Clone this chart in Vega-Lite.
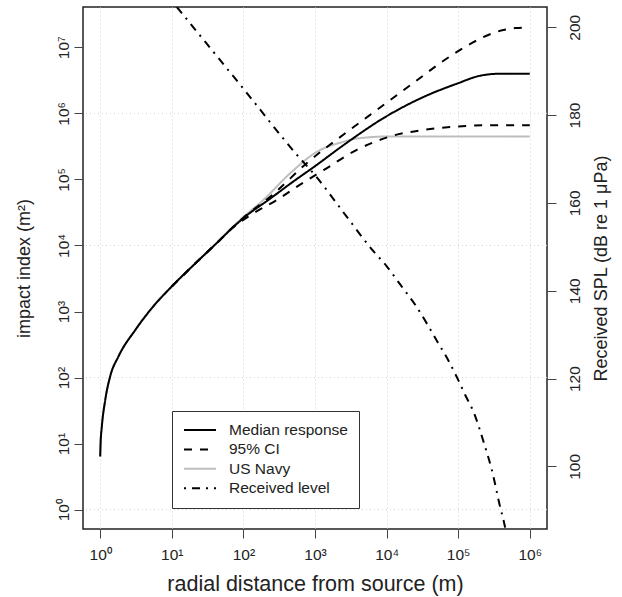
{
  "$schema": "https://vega.github.io/schema/vega-lite/v6.json",
  "autosize": "none",
  "width": 464,
  "height": 522,
  "padding": {"left": 83, "top": 7, "right": 75, "bottom": 68},
  "background": "white",
  "datasets": {
    "curves": [
      {"r": 1, "v": 6.4, "series": "US Navy", "line": "navy"},
      {"r": 1.012, "v": 10, "series": "US Navy", "line": "navy"},
      {"r": 1.054, "v": 18.2, "series": "US Navy", "line": "navy"},
      {"r": 1.175, "v": 45.7, "series": "US Navy", "line": "navy"},
      {"r": 1.38, "v": 105, "series": "US Navy", "line": "navy"},
      {"r": 1.8, "v": 209, "series": "US Navy", "line": "navy"},
      {"r": 3.09, "v": 525, "series": "US Navy", "line": "navy"},
      {"r": 5.25, "v": 1122, "series": "US Navy", "line": "navy"},
      {"r": 10, "v": 2399, "series": "US Navy", "line": "navy"},
      {"r": 21.4, "v": 5370, "series": "US Navy", "line": "navy"},
      {"r": 44.7, "v": 11480, "series": "US Navy", "line": "navy"},
      {"r": 63.1, "v": 17000, "series": "US Navy", "line": "navy"},
      {"r": 100, "v": 26900, "series": "US Navy", "line": "navy"},
      {"r": 190.5, "v": 48980, "series": "US Navy", "line": "navy"},
      {"r": 457, "v": 125900, "series": "US Navy", "line": "navy"},
      {"r": 1072, "v": 263000, "series": "US Navy", "line": "navy"},
      {"r": 2512, "v": 371500, "series": "US Navy", "line": "navy"},
      {"r": 3890, "v": 416900, "series": "US Navy", "line": "navy"},
      {"r": 11220, "v": 446700, "series": "US Navy", "line": "navy"},
      {"r": 1000000, "v": 446700, "series": "US Navy", "line": "navy"},

      {"r": 1, "v": 6.4, "series": "Median response", "line": "med"},
      {"r": 1.012, "v": 10, "series": "Median response", "line": "med"},
      {"r": 1.054, "v": 18.2, "series": "Median response", "line": "med"},
      {"r": 1.175, "v": 45.7, "series": "Median response", "line": "med"},
      {"r": 1.38, "v": 105, "series": "Median response", "line": "med"},
      {"r": 1.8, "v": 209, "series": "Median response", "line": "med"},
      {"r": 3.09, "v": 525, "series": "Median response", "line": "med"},
      {"r": 5.25, "v": 1122, "series": "Median response", "line": "med"},
      {"r": 10, "v": 2399, "series": "Median response", "line": "med"},
      {"r": 21.4, "v": 5370, "series": "Median response", "line": "med"},
      {"r": 44.7, "v": 11480, "series": "Median response", "line": "med"},
      {"r": 69.2, "v": 18200, "series": "Median response", "line": "med"},
      {"r": 107, "v": 27540, "series": "Median response", "line": "med"},
      {"r": 224, "v": 48980, "series": "Median response", "line": "med"},
      {"r": 501, "v": 93300, "series": "Median response", "line": "med"},
      {"r": 1000, "v": 158500, "series": "Median response", "line": "med"},
      {"r": 2512, "v": 331100, "series": "Median response", "line": "med"},
      {"r": 9120, "v": 851000, "series": "Median response", "line": "med"},
      {"r": 33110, "v": 1778000, "series": "Median response", "line": "med"},
      {"r": 96600, "v": 2818000, "series": "Median response", "line": "med"},
      {"r": 204200, "v": 3715000, "series": "Median response", "line": "med"},
      {"r": 389000, "v": 3981000, "series": "Median response", "line": "med"},
      {"r": 1000000, "v": 3981000, "series": "Median response", "line": "med"},

      {"r": 10, "v": 2399, "series": "95% CI", "line": "ciU"},
      {"r": 21.4, "v": 5370, "series": "95% CI", "line": "ciU"},
      {"r": 44.7, "v": 11480, "series": "95% CI", "line": "ciU"},
      {"r": 69.2, "v": 18200, "series": "95% CI", "line": "ciU"},
      {"r": 100, "v": 26300, "series": "95% CI", "line": "ciU"},
      {"r": 251, "v": 57500, "series": "95% CI", "line": "ciU"},
      {"r": 794, "v": 182000, "series": "95% CI", "line": "ciU"},
      {"r": 2512, "v": 478600, "series": "95% CI", "line": "ciU"},
      {"r": 7943, "v": 1202000, "series": "95% CI", "line": "ciU"},
      {"r": 25120, "v": 3020000, "series": "95% CI", "line": "ciU"},
      {"r": 63100, "v": 6310000, "series": "95% CI", "line": "ciU"},
      {"r": 158500, "v": 11750000, "series": "95% CI", "line": "ciU"},
      {"r": 316200, "v": 16600000, "series": "95% CI", "line": "ciU"},
      {"r": 631000, "v": 19500000, "series": "95% CI", "line": "ciU"},
      {"r": 1000000, "v": 19950000, "series": "95% CI", "line": "ciU"},

      {"r": 10, "v": 2399, "series": "95% CI", "line": "ciL"},
      {"r": 21.4, "v": 5370, "series": "95% CI", "line": "ciL"},
      {"r": 44.7, "v": 11480, "series": "95% CI", "line": "ciL"},
      {"r": 69.2, "v": 18200, "series": "95% CI", "line": "ciL"},
      {"r": 126, "v": 28840, "series": "95% CI", "line": "ciL"},
      {"r": 295, "v": 49000, "series": "95% CI", "line": "ciL"},
      {"r": 661, "v": 87100, "series": "95% CI", "line": "ciL"},
      {"r": 1318, "v": 138000, "series": "95% CI", "line": "ciL"},
      {"r": 3890, "v": 281800, "series": "95% CI", "line": "ciL"},
      {"r": 11220, "v": 446700, "series": "95% CI", "line": "ciL"},
      {"r": 33110, "v": 562300, "series": "95% CI", "line": "ciL"},
      {"r": 96600, "v": 631000, "series": "95% CI", "line": "ciL"},
      {"r": 281800, "v": 660700, "series": "95% CI", "line": "ciL"},
      {"r": 1000000, "v": 660700, "series": "95% CI", "line": "ciL"}
    ],
    "received": [
      {"r": 10, "v": 206, "series": "Received level", "line": "rl"},
      {"r": 13.8, "v": 203.2, "series": "Received level", "line": "rl"},
      {"r": 100, "v": 186, "series": "Received level", "line": "rl"},
      {"r": 562, "v": 170.9, "series": "Received level", "line": "rl"},
      {"r": 1000, "v": 166.3, "series": "Received level", "line": "rl"},
      {"r": 2512, "v": 157.8, "series": "Received level", "line": "rl"},
      {"r": 6310, "v": 149.3, "series": "Received level", "line": "rl"},
      {"r": 10000, "v": 145.6, "series": "Received level", "line": "rl"},
      {"r": 15850, "v": 141.2, "series": "Received level", "line": "rl"},
      {"r": 25120, "v": 136.8, "series": "Received level", "line": "rl"},
      {"r": 51290, "v": 128.4, "series": "Received level", "line": "rl"},
      {"r": 70790, "v": 124.5, "series": "Received level", "line": "rl"},
      {"r": 100000, "v": 119.7, "series": "Received level", "line": "rl"},
      {"r": 125900, "v": 116.2, "series": "Received level", "line": "rl"},
      {"r": 166000, "v": 112.2, "series": "Received level", "line": "rl"},
      {"r": 229100, "v": 105.3, "series": "Received level", "line": "rl"},
      {"r": 295100, "v": 99.2, "series": "Received level", "line": "rl"},
      {"r": 389000, "v": 90.5, "series": "Received level", "line": "rl"},
      {"r": 436500, "v": 87.3, "series": "Received level", "line": "rl"},
      {"r": 478600, "v": 84.0, "series": "Received level", "line": "rl"}
    ],
    "grid": [
      {"v": 1}, {"v": 100}, {"v": 10000}, {"v": 1000000}
    ]
  },
  "layer": [
    {
      "layer": [
        {
          "data": {"name": "grid"},
          "mark": {"type": "rule", "color": "#D3D3D3", "strokeWidth": 1, "strokeDash": [1, 3]},
          "encoding": {
            "y": {"field": "v", "type": "quantitative", "scale": {"type": "log", "domain": [0.51, 40700000], "nice": false}}
          }
        },
        {
          "data": {"name": "curves"},
          "transform": [{"filter": "datum.series == 'US Navy'"}],
          "mark": {"type": "line", "strokeWidth": 2, "interpolate": "monotone", "clip": true, "strokeCap": "butt"},
          "encoding": {
            "x": {"field": "r", "type": "quantitative", "scale": {"type": "log", "domain": [0.575, 1740000], "nice": false},
              "axis": {"values": [1, 10, 100, 1000, 10000, 100000, 1000000],
                "labelExpr": "'10' + ['⁰','¹','²','³','⁴','⁵','⁶','⁷'][round(log(datum.value)/LN10)]",
                "grid": true, "gridColor": "#D3D3D3", "gridDash": [1, 3], "gridWidth": 1,
                "labelBaseline": "top", "labelPadding": 9, "labelFlush": false, "labelOverlap": false,
                "title": "radial distance from source (m)", "titleFontSize": 21.5, "titleY": 61, "titleBaseline": "alphabetic"}},
            "y": {"field": "v", "type": "quantitative", "scale": {"type": "log", "domain": [0.51, 40700000], "nice": false},
              "axis": {"values": [1, 10, 100, 1000, 10000, 100000, 1000000, 10000000],
                "labelExpr": "'10' + ['⁰','¹','²','³','⁴','⁵','⁶','⁷'][round(log(datum.value)/LN10)]",
                "labelAngle": 270, "labelAlign": "center", "labelBaseline": "alphabetic", "labelPadding": 6, "labelOverlap": false, "labelFlush": false,
                "title": "impact index (m²)", "titleAngle": 270, "titleX": -53.5, "titleY": 261, "titleAlign": "center", "titleBaseline": "alphabetic"}},
            "detail": {"field": "line"},
            "color": {"field": "series", "type": "nominal", "scale": {"domain": ["Median response", "95% CI", "US Navy", "Received level"], "range": ["#000000", "#000000", "#BEBEBE", "#000000"]}, "legend": {"title": null}},
            "strokeDash": {"field": "series", "type": "nominal", "scale": {"domain": ["Median response", "95% CI", "US Navy", "Received level"], "range": [[1, 0], [8, 8], [1, 0], [2, 6, 8, 6]]}, "legend": {"title": null}}
          }
        },
        {
          "data": {"name": "curves"},
          "transform": [{"filter": "datum.series != 'US Navy'"}],
          "mark": {"type": "line", "strokeWidth": 2, "interpolate": "monotone", "clip": true, "strokeCap": "butt"},
          "encoding": {
            "x": {"field": "r", "type": "quantitative", "scale": {"type": "log", "domain": [0.575, 1740000], "nice": false}},
            "y": {"field": "v", "type": "quantitative", "scale": {"type": "log", "domain": [0.51, 40700000], "nice": false}},
            "detail": {"field": "line"},
            "color": {"field": "series", "type": "nominal"},
            "strokeDash": {"field": "series", "type": "nominal"}
          }
        }
      ]
    },
    {
      "data": {"name": "received"},
      "mark": {"type": "line", "strokeWidth": 2, "interpolate": "monotone", "clip": true, "strokeCap": "butt"},
      "encoding": {
        "x": {"field": "r", "type": "quantitative", "scale": {"type": "log", "domain": [0.575, 1740000], "nice": false}},
        "y": {"field": "v", "type": "quantitative", "scale": {"type": "linear", "domain": [85.75, 204.6], "nice": false, "zero": false},
          "axis": {"orient": "right", "values": [100, 120, 140, 160, 180, 200],
            "labelAngle": 270, "labelAlign": "center", "labelBaseline": "top", "labelPadding": 11, "labelOverlap": false, "labelFlush": false,
            "title": "Received SPL (dB re 1 μPa)", "titleAngle": 270, "titleX": 59, "titleY": 261, "titleAlign": "center", "titleBaseline": "alphabetic"}},
        "color": {"field": "series", "type": "nominal"},
        "strokeDash": {"field": "series", "type": "nominal"}
      }
    }
  ],
  "resolve": {"scale": {"y": "independent"}},
  "config": {
    "font": "Liberation Sans",
    "view": {"stroke": "#222222", "strokeWidth": 1.5},
    "axis": {"domain": false, "grid": false, "tickColor": "#444444", "tickSize": 9, "tickWidth": 1,
      "labelFontSize": 15.5, "labelColor": "#222222", "titleFontSize": 18, "titleColor": "#222222", "titleFontWeight": "normal"},
    "legend": {"orient": "none", "legendX": 89, "legendY": 404, "symbolType": "stroke", "symbolSize": 1024, "symbolStrokeWidth": 2,
      "labelFontSize": 15.5, "labelColor": "#222222", "labelOffset": 12, "padding": 11, "rowPadding": 2.4, "clipHeight": 16,
      "strokeColor": "#333333", "fillColor": "white", "labelLimit": 300}
  }
}
